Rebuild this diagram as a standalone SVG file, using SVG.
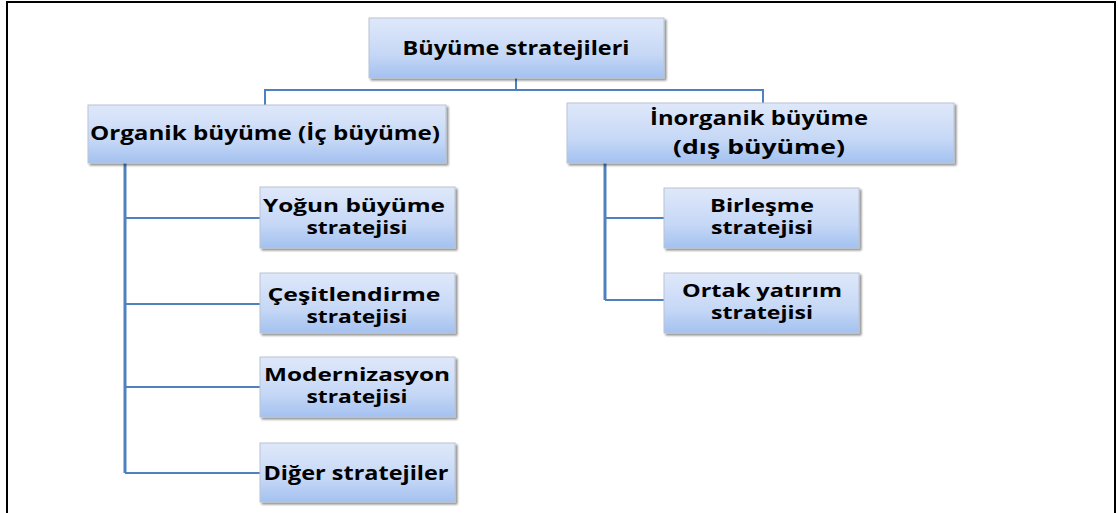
<svg xmlns="http://www.w3.org/2000/svg" width="1118" height="513" viewBox="0 0 1118 513">
<defs>
<linearGradient id="g" x1="0" y1="0" x2="0" y2="1">
<stop offset="0" stop-color="#dfe8fa"/>
<stop offset="0.6" stop-color="#c6d8f6"/>
<stop offset="1" stop-color="#a3c1f0"/>
</linearGradient>
<filter id="sh" x="-10%" y="-10%" width="120%" height="130%">
<feGaussianBlur in="SourceAlpha" stdDeviation="1.2"/>
<feOffset dx="2" dy="2" result="b"/>
<feComponentTransfer><feFuncA type="linear" slope="0.45"/></feComponentTransfer>
<feMerge><feMergeNode/><feMergeNode in="SourceGraphic"/></feMerge>
</filter>
</defs>
<style>
.box{fill:url(#g);stroke:#b9c3d3;stroke-width:1;filter:url(#sh)}
.t{font-family:"Open Sans","Liberation Sans",sans-serif;font-weight:bold;font-size:19px;fill:#000;text-anchor:middle}
.s{font-size:17px}
.c{fill:none;stroke:#4f81bd;stroke-width:2}
.tr{fill:none;stroke:#4f81bd;stroke-width:3}
</style>
<rect width="1118" height="513" fill="#fff"/>
<path d="M7,513 V2 H1115 V513" fill="none" stroke="#000" stroke-width="2"/>
<g id="connectors">
<path class="c" d="M516,78 V90 M265,105 V90 H763 V103"/>
<path class="tr" d="M125,163 V473"/>
<path class="c" d="M125,218 H260 M125,304 H260 M125,387 H260 M125,473 H260"/>
<path class="tr" d="M605,163 V300"/>
<path class="c" d="M605,218 H664 M605,300 H664"/>
</g>
<g id="root"><rect class="box" x="369" y="18" width="295" height="60"/><text class="t" x="516" y="55" textLength="227" lengthAdjust="spacingAndGlyphs">Büyüme stratejileri</text></g>
<g id="organik"><rect class="box" x="88" y="105" width="358" height="58"/><text class="t" x="265" y="140" textLength="350" lengthAdjust="spacingAndGlyphs">Organik büyüme (İç büyüme)</text></g>
<g id="inorganik"><rect class="box" x="567" y="103" width="387" height="60"/><text class="t" x="759" y="125" textLength="218" lengthAdjust="spacingAndGlyphs">İnorganik büyüme</text><text class="t" x="759" y="154" textLength="172" lengthAdjust="spacingAndGlyphs">(dış büyüme)</text></g>
<g id="yogun"><rect class="box" x="260" y="187" width="195" height="61"/><text class="t s" x="354" y="212" textLength="182" lengthAdjust="spacingAndGlyphs">Yoğun büyüme</text><text class="t s" x="357" y="234" textLength="101" lengthAdjust="spacingAndGlyphs">stratejisi</text></g>
<g id="cesitlendirme"><rect class="box" x="260" y="273" width="195" height="60"/><text class="t s" x="354" y="301" textLength="173" lengthAdjust="spacingAndGlyphs">Çeşitlendirme</text><text class="t s" x="357" y="323" textLength="101" lengthAdjust="spacingAndGlyphs">stratejisi</text></g>
<g id="modernizasyon"><rect class="box" x="260" y="357" width="195" height="60"/><text class="t s" x="357" y="381" textLength="186" lengthAdjust="spacingAndGlyphs">Modernizasyon</text><text class="t s" x="357" y="403" textLength="101" lengthAdjust="spacingAndGlyphs">stratejisi</text></g>
<g id="diger"><rect class="box" x="260" y="443" width="195" height="59"/><text class="t" x="356" y="480" textLength="185" lengthAdjust="spacingAndGlyphs">Diğer stratejiler</text></g>
<g id="birlesme"><rect class="box" x="664" y="188" width="195" height="60"/><text class="t s" x="762" y="212" textLength="104" lengthAdjust="spacingAndGlyphs">Birleşme</text><text class="t s" x="762" y="234" textLength="102" lengthAdjust="spacingAndGlyphs">stratejisi</text></g>
<g id="ortak"><rect class="box" x="664" y="273" width="195" height="60"/><text class="t s" x="762" y="297" textLength="160" lengthAdjust="spacingAndGlyphs">Ortak yatırım</text><text class="t s" x="762" y="319" textLength="102" lengthAdjust="spacingAndGlyphs">stratejisi</text></g>
</svg>
